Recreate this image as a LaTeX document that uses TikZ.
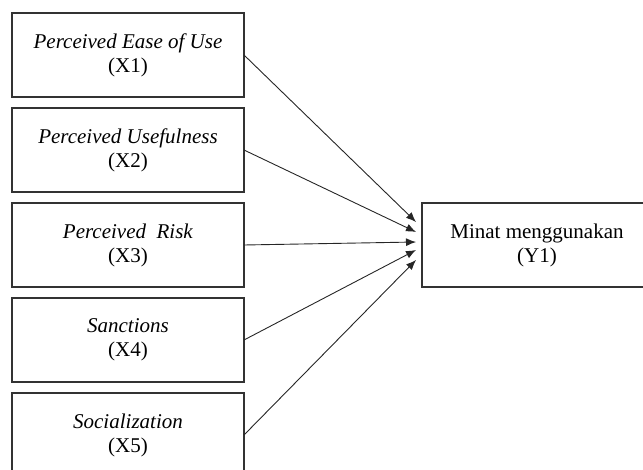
\documentclass[tikz,border=0pt]{standalone}
\usepackage{fontspec}
\setmainfont{Liberation Serif}
\usepackage{tikz}
\usetikzlibrary{positioning, arrows.meta}

\begin{document}
\begin{tikzpicture}[auto,node distance=11pt,>={Latex[length=10pt,width=8pt]},font=\fontsize{21}{24}\selectfont]
    \tikzstyle{var}=[draw=black!80,line width=1.2pt,rectangle,minimum width=232pt,minimum height=84pt,align=center,inner sep=0pt,outer sep=0pt]
    \tikzstyle{link}=[->,line width=0.9pt,draw=black!85]

    \useasboundingbox (0,0) rectangle (643pt,469pt);

    \node[var] (x1) at (128pt,414pt) {\textit{Perceived Ease of Use}\\(X1)};
    \node[var,below=of x1] (x2) {\textit{Perceived Usefulness}\\(X2)};
    \node[var,below=of x2] (x3) {\textit{Perceived\enspace Risk}\\(X3)};
    \node[var,below=of x3] (x4) {\textit{Sanctions}\\(X4)};
    \node[var,below=of x4] (x5) {\textit{Socialization}\\(X5)};
    \node[var,right=178pt of x3,minimum width=240pt] (y1) {\hspace*{-10pt}Minat menggunakan\\\hspace*{-10pt}(Y1)};

    \coordinate (t1) at ([xshift=-6pt,yshift=23pt]y1.west);
    \coordinate (t2) at ([xshift=-6pt,yshift=13pt]y1.west);
    \coordinate (t3) at ([xshift=-6pt,yshift=3pt]y1.west);
    \coordinate (t4) at ([xshift=-6pt,yshift=-5pt]y1.west);
    \coordinate (t5) at ([xshift=-6pt,yshift=-15pt]y1.west);

    \draw[link] (x1.east) -- (t1);
    \draw[link] (x2.east) -- (t2);
    \draw[link] (x3.east) -- (t3);
    \draw[link] (x4.east) -- (t4);
    \draw[link] (x5.east) -- (t5);
\end{tikzpicture}
\end{document}
